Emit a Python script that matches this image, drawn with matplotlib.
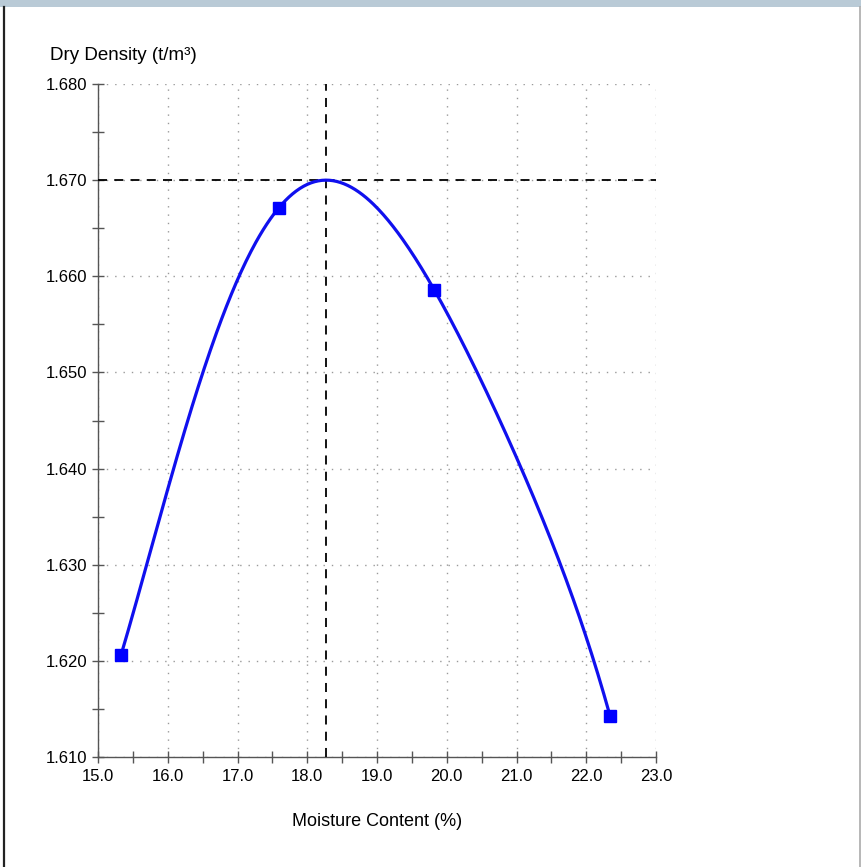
import matplotlib
matplotlib.use('Agg')
import matplotlib.pyplot as plt
import numpy as np
from matplotlib.lines import Line2D
from matplotlib.patches import Rectangle

# compaction test results
moisture = [15.33, 17.59, 19.82, 22.34]
density = [1.6206, 1.6671, 1.6586, 1.6143]
omc = 18.27
mdd = 1.670

x_ticks = [15.0, 16.0, 17.0, 18.0, 19.0, 20.0, 21.0, 22.0, 23.0]
y_ticks = [1.610, 1.620, 1.630, 1.640, 1.650, 1.660, 1.670, 1.680]

plt.rcParams['font.family'] = ['Liberation Sans', 'DejaVu Sans']


def compaction_curve(xp, yp, x_opt, y_opt, xs):
    # polynomial through the test points and the peak, flat at the peak
    px = np.append(xp, x_opt) - x_opt
    py = np.append(yp, y_opt)
    n = len(px) + 1
    rows = [[x ** k for k in range(n)] for x in px]
    rows.append([0.0, 1.0] + [0.0] * (n - 2))
    rhs = list(py) + [0.0]
    c = np.linalg.solve(np.array(rows), np.array(rhs))
    t = np.asarray(xs) - x_opt
    return sum(c[k] * t ** k for k in range(n))


fig = plt.figure(figsize=(8.61, 8.67), dpi=100)
ax = fig.add_axes([98 / 861, 1 - 757 / 867, 558 / 861, 673 / 867])

xs = np.linspace(moisture[0], moisture[-1], 400)
ax.plot(xs, compaction_curve(moisture, density, omc, mdd, xs),
        color='#1010ee', lw=2.3, zorder=4)
ax.plot(moisture, density, 's', color='#0000ff', ms=8.5, zorder=5)

# optimum moisture / max dry density
ax.axhline(mdd, color='black', lw=1.3, ls=(0, (5, 4)), zorder=3)
ax.axvline(omc, color='black', lw=1.3, ls=(0, (5, 4)), zorder=3)

ax.set_xlim(15.0, 23.0)
ax.set_ylim(1.610, 1.680)
ax.set_xticks(x_ticks)
ax.set_xticklabels(['%.1f' % v for v in x_ticks])
ax.set_xticks(np.arange(15.5, 23.0, 1.0), minor=True)
ax.set_yticks(y_ticks)
ax.set_yticklabels(['%.3f' % v for v in y_ticks])
ax.set_yticks(np.arange(1.615, 1.680, 0.01), minor=True)

ax.grid(True, which='major', color='#9a9a9a', lw=1.0, ls=(0, (1, 5)))
ax.set_axisbelow(True)
for side in ('top', 'right'):
    ax.spines[side].set_visible(False)
for side in ('left', 'bottom'):
    ax.spines[side].set_color('#555555')
    ax.spines[side].set_linewidth(1.0)
ax.tick_params(which='both', direction='inout', length=9, width=1.0,
               color='#555555', labelsize=12, pad=3)
ax.tick_params(axis='x', pad=4)

fig.text(50 / 861, 1 - 55 / 867, 'Dry Density (t/m³)', fontsize=13.5,
         ha='left', va='center')
fig.text(377 / 861, 1 - 822 / 867, 'Moisture Content (%)', fontsize=13,
         ha='center', va='center')

# header strip and frame
fig.add_artist(Rectangle((0, 1 - 7 / 867), 1, 7 / 867, transform=fig.transFigure,
                         facecolor='#b9cad6', edgecolor='none', zorder=0))
fig.add_artist(Line2D([3.5 / 861, 3.5 / 861], [0, 1 - 7 / 867],
                      transform=fig.transFigure, color='#222222', lw=1.6))
fig.add_artist(Line2D([859.5 / 861, 859.5 / 861], [0, 1 - 7 / 867],
                      transform=fig.transFigure, color='#aaaaaa', lw=1.2))

fig.savefig('out.png', dpi=100)
